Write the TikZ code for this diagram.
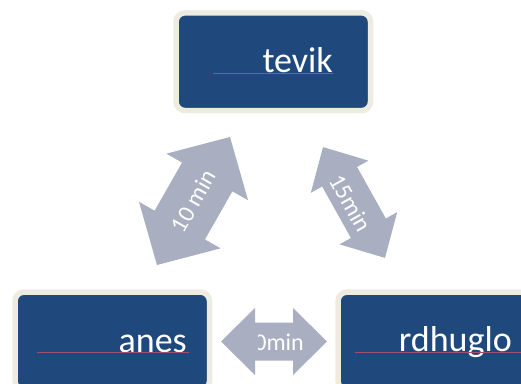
\documentclass[tikz,border=0pt]{standalone}
\usepackage{fontspec}
\setmainfont{Carlito}
\definecolor{boxblue}{RGB}{31,73,125}
\definecolor{boxrim}{RGB}{238,236,225}
\definecolor{arrowgray}{RGB}{169,175,192}
\definecolor{ulinecol}{RGB}{160,80,110}
\begin{document}
\begin{tikzpicture}[x=1pt,y=1pt,
  placebox/.style={fill=boxblue, draw=boxrim, line width=5.5pt, rounded corners=9pt,
    minimum width=194.5pt, minimum height=97.8pt, inner sep=0pt},
  boxtext/.style={text=white, font=\fontsize{36}{40}\selectfont, inner sep=0pt},
  arrowtext/.style={text=white, font=\fontsize{24}{27}\selectfont, inner sep=0pt, transform shape},
  blockarrow/.style={fill=arrowgray},
  uline/.style={draw=ulinecol, line width=0.7pt}]
\useasboundingbox (0,0) rectangle (521,383);
\clip (0,0) rectangle (521,383);
% boxes
\node[placebox] (top) at (273.3,321.3) {};
\node[placebox] (left) at (112.3,42) {};
\node[placebox] (right) at (435.3,42) {};
% box texts
\node[boxtext, anchor=base east] (toptext) at (333,310.7) {tevik};
\node[boxtext, anchor=base east] (lefttext) at (187,30.7) {anes};
\node[boxtext, anchor=base east] (righttext) at (512,31.3) {rdhuglo};
\draw[uline] (213,309.4) -- (333,309.4);
\draw[uline] (37,30.2) -- (189,30.2);
\draw[uline] (355,30.8) -- (521,30.8);
% arrow left-top
\begin{scope}[shift={(193.5,182)}, rotate=60.3]
  \coordinate (a1s) at (-73.7,0);
  \coordinate (a1e) at (73.7,0);
  \fill[blockarrow] (a1s) -- (-27.7,47) -- (-27.7,29) -- (27.7,29) -- (27.7,47) -- (a1e)
    -- (27.7,-47) -- (27.7,-29) -- (-27.7,-29) -- (-27.7,-47) -- cycle;
  \node[arrowtext] (t1) at (0,0) {10 min};
\end{scope}
% arrow top-right
\begin{scope}[shift={(354,180.5)}, rotate=-60.8]
  \coordinate (a2s) at (-63.5,0);
  \coordinate (a2e) at (63.5,0);
  \fill[blockarrow] (a2s) -- (-29.5,33) -- (-29.5,20) -- (29.5,20) -- (29.5,33) -- (a2e)
    -- (29.5,-33) -- (29.5,-20) -- (-29.5,-20) -- (-29.5,-33) -- cycle;
  \node[arrowtext] (t2) at (-1,-3) {15min};
\end{scope}
% arrow bottom
\begin{scope}[shift={(274,41.5)}]
  \coordinate (a3s) at (-53,0);
  \coordinate (a3e) at (53,0);
  \fill[blockarrow] (a3s) -- (-19,33.5) -- (-19,19) -- (19,19) -- (19,33.5) -- (a3e)
    -- (19,-33.5) -- (19,-19) -- (-19,-19) -- (-19,-33.5) -- cycle;
\end{scope}
\begin{scope}
  \clip (258,0) rectangle (521,383);
  \node[arrowtext, anchor=base east] (t3) at (304,32.5) {0min};
\end{scope}
\end{tikzpicture}
\end{document}
